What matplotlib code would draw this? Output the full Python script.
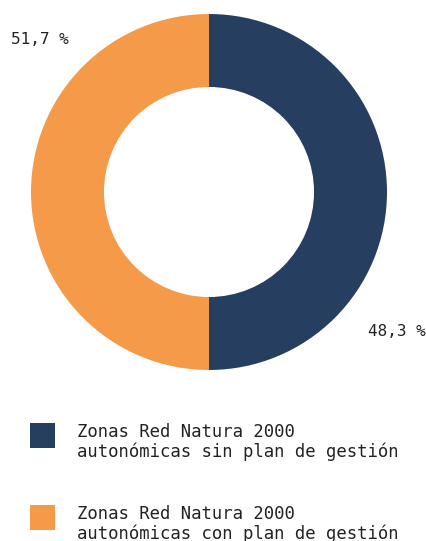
import matplotlib.pyplot as plt
from matplotlib.patches import Rectangle

# data
labels = ["Zonas Red Natura 2000\nautonómicas sin plan de gestión",
          "Zonas Red Natura 2000\nautonómicas con plan de gestión"]
value_labels = ["48,3 %", "51,7 %"]
# wedge sizes as drawn in the reference (both cuts are exactly vertical)
wedge_shares = [50, 50]
colors = ["#263f61", "#f59a48"]

W, H = 427, 541
plt.rcParams['font.family'] = ['DejaVu Sans Mono']
fig = plt.figure(figsize=(W / 100, H / 100), dpi=100)

# donut: centre (209,192), radius 178 px
cx, cy, r = 209, 192, 178
ax = fig.add_axes([(cx - r) / W, (H - cy - r) / H, 2 * r / W, 2 * r / H])
ax.pie(wedge_shares, colors=colors, startangle=90, counterclock=False, radius=1,
       wedgeprops=dict(width=0.41, edgecolor='none'))
ax.set_xlim(-1, 1)
ax.set_ylim(-1, 1)
ax.set_aspect('equal')
ax.axis('off')

# percentage labels
fig.text(397 / W, 1 - 332 / H, value_labels[0], ha='center', va='center', fontsize=11.5, color='#222222')
fig.text(40 / W, 1 - 40 / H, value_labels[1], ha='center', va='center', fontsize=11.5, color='#222222')

# legend
box_y = [423, 505]
for lab, col, y in zip(labels, colors, box_y):
    fig.add_artist(Rectangle((30 / W, 1 - (y + 25) / H), 25 / W, 25 / H,
                             transform=fig.transFigure, color=col, lw=0))
    fig.text(77 / W, 1 - (y + 19) / H, lab, ha='left', va='center', fontsize=12.4,
             color='#222222', linespacing=1.12)

fig.savefig("out.png", dpi=100)
